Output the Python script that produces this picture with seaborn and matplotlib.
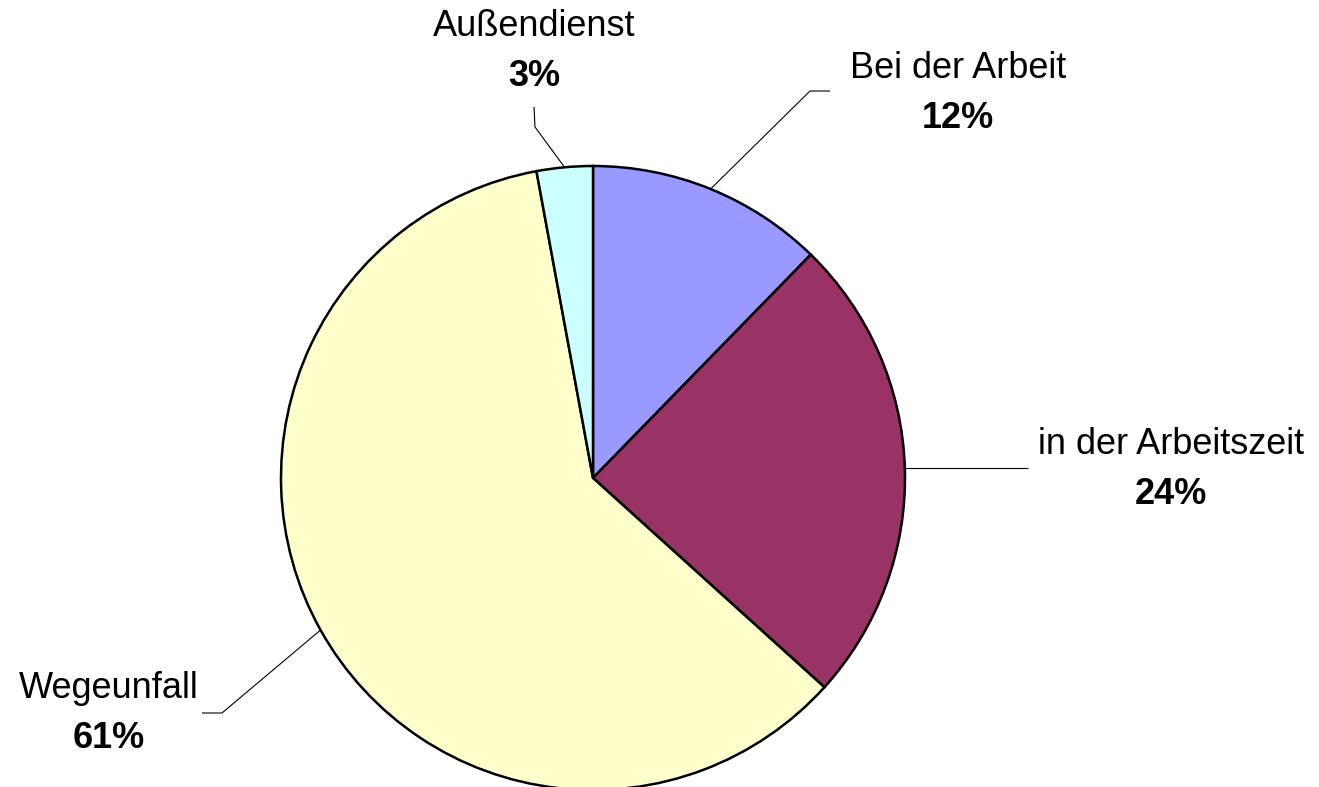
import numpy as np
import matplotlib
matplotlib.use("Agg")
import matplotlib.pyplot as plt
import seaborn as sns

categories = ["Bei der Arbeit", "in der Arbeitszeit", "Wegeunfall", "Außendienst"]
shares = [12.3, 24.4, 60.4, 2.9]
pct_labels = ["12%", "24%", "61%", "3%"]
colors = ["#9999FF", "#993366", "#FFFFCC", "#CCFFFF"]

sns.set_theme(style="white")
plt.rcParams["font.family"] = ["Liberation Sans", "DejaVu Sans"]

W, H = 1319, 787
fig = plt.figure(figsize=(W / 100, H / 100), dpi=100)
ax = fig.add_axes([0, 0, 1, 1])
ax.axis("off")

cx, cy, r = 593, H - 478, 312
wedges, _ = ax.pie(shares, colors=sns.color_palette(colors), startangle=90,
                   counterclock=False, center=(cx, cy), radius=r,
                   wedgeprops=dict(edgecolor="black", linewidth=1.8))
ax.set_xlim(0, W)
ax.set_ylim(0, H)
ax.set_aspect("equal")

# label layout: (elbow point, line end, text centre) in pixel coords (y down)
layout = {
    "Bei der Arbeit": ((810, 91), (830, 91), (958, 68)),
    "in der Arbeitszeit": ((1028, None), (1028, None), (1171, 444)),
    "Wegeunfall": ((222, 713), (202, 713), (109, 689)),
    "Außendienst": ((535, 127), (534, 107), (534, 27)),
}

for w, name, pct in zip(wedges, categories, pct_labels):
    mid = np.deg2rad((w.theta1 + w.theta2) / 2)
    x0 = cx + r * np.cos(mid)
    y0 = cy + r * np.sin(mid)
    (ex, ey), (lx, ly), (tx, ty) = layout[name]
    if ey is None:
        ey = H - y0
        ly = ey
    ax.plot([x0, ex, lx], [y0, H - ey, H - ly], color="black", lw=0.8,
            solid_capstyle="butt")
    ax.text(tx, H - ty, name, ha="center", va="center", fontsize=26,
            color="black")
    ax.text(tx, H - ty - 50, pct, ha="center", va="center", fontsize=26,
            fontweight="bold", color="black")

fig.savefig("out.png", dpi=100, facecolor="white")
